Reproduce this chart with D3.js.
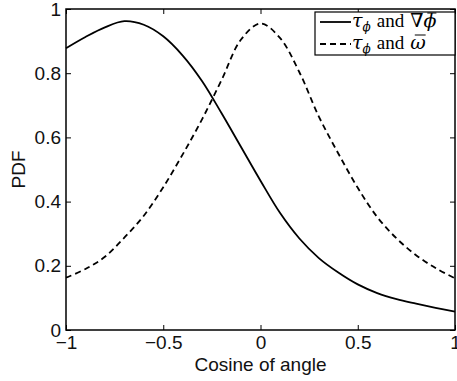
<!DOCTYPE html>
<html><head><meta charset="utf-8">
<script src="https://cdn.jsdelivr.net/npm/d3@7"></script>
<style>body{margin:0;background:#fff;} svg{display:block;}</style>
</head><body>
<svg id="c" width="457" height="381"></svg>
<script>
const cosine = [-1,-0.9,-0.8,-0.7,-0.6,-0.5,-0.4,-0.3,-0.2,-0.1,0,0.1,0.2,0.3,0.4,0.5,0.6,0.7,0.8,0.9,1];
const pdfGrad = [0.878,0.913,0.943,0.962,0.951,0.915,0.855,0.775,0.675,0.570,0.465,0.365,0.285,0.224,0.179,0.142,0.115,0.096,0.082,0.069,0.057];
const pdfOmega = [0.163,0.190,0.228,0.288,0.356,0.445,0.547,0.657,0.779,0.905,0.955,0.910,0.803,0.665,0.550,0.443,0.352,0.285,0.233,0.193,0.161];
const xTicks = [-1,-0.5,0,0.5,1];
const yTicks = [0,0.2,0.4,0.6,0.8,1];
const xLabel = "Cosine of angle";
const yLabel = "PDF";

const svg = d3.select("#c");
const L=66, R=455, T=9, B=330;
const x = d3.scaleLinear().domain([-1,1]).range([L,R]);
const y = d3.scaleLinear().domain([0,1]).range([B,T]);
const fmt = v => (v<0 ? "\u2212" + Math.abs(v) : String(v));
const sans = "Liberation Sans, Arial, Helvetica, sans-serif";
const FS = 19;

// lines
const line = d3.line().x((d,i)=>x(cosine[i])).y(d=>y(d)).curve(d3.curveCatmullRom.alpha(0.5));
svg.append("path").attr("d", line(pdfGrad)).attr("fill","none").attr("stroke","#000").attr("stroke-width",1.8);
svg.append("path").attr("d", line(pdfOmega)).attr("fill","none").attr("stroke","#000").attr("stroke-width",1.8).attr("stroke-dasharray","6,4");

// axes with inward ticks
const tl = 5;
const gx = svg.append("g").attr("transform",`translate(0,${B})`)
  .call(d3.axisBottom(x).tickValues(xTicks).tickSize(-tl).tickPadding(6).tickFormat(fmt));
const gxt = svg.append("g").attr("transform",`translate(0,${T})`)
  .call(d3.axisTop(x).tickValues(xTicks).tickSize(-tl).tickFormat(""));
const gy = svg.append("g").attr("transform",`translate(${L},0)`)
  .call(d3.axisLeft(y).tickValues(yTicks).tickSize(-tl).tickPadding(5).tickFormat(d=>String(d)));
const gyr = svg.append("g").attr("transform",`translate(${R},0)`)
  .call(d3.axisRight(y).tickValues(yTicks).tickSize(-tl).tickFormat(""));
[gx,gxt,gy,gyr].forEach(g=>{
  g.select(".domain").remove();
  g.selectAll("line").attr("stroke","#000").attr("stroke-width",1);
  g.selectAll("text").attr("font-family",sans).attr("font-size",FS).attr("fill","#111");
});
svg.append("rect").attr("x",L).attr("y",T).attr("width",R-L).attr("height",B-T)
  .attr("fill","none").attr("stroke","#000").attr("stroke-width",1.5);

// labels
svg.append("text").attr("x",(L+R)/2).attr("y",371).attr("text-anchor","middle")
  .attr("font-family",sans).attr("font-size",FS).attr("fill","#111").text(xLabel);
svg.append("text").attr("transform",`translate(25,${(T+B)/2}) rotate(-90)`).attr("text-anchor","middle")
  .attr("font-family",sans).attr("font-size",FS).attr("fill","#111").text(yLabel);

// legend
const lg = svg.append("g");
lg.append("rect").attr("x",315).attr("y",12).attr("width",140).attr("height",43)
  .attr("fill","#fff").attr("stroke","#000").attr("stroke-width",1.2);
const serif = "Liberation Serif, DejaVu Serif, serif";
const greek = "DejaVu Serif, serif";
const rowsDef = [
  {dash:null, yy:22, parts:[
    {t:"\u03C4", it:true, fs:19, f:greek},
    {t:"\u03D5", it:true, fs:12, dy:4, f:greek},
    {t:"and", fs:19, gap:6},
    {t:"\u2207", fs:19, gap:6, f:greek},
    {t:"\u03D5", it:true, fs:19, bar:true, gap:0, f:greek}
  ]},
  {dash:"6,4", yy:44, parts:[
    {t:"\u03C4", it:true, fs:19, f:greek},
    {t:"\u03D5", it:true, fs:12, dy:4, f:greek},
    {t:"and", fs:19, gap:6},
    {t:"\u03C9", it:true, fs:19, bar:true, gap:6, f:greek}
  ]}
];
rowsDef.forEach(r=>{
  lg.append("line").attr("x1",320).attr("x2",351).attr("y1",r.yy).attr("y2",r.yy)
    .attr("stroke","#000").attr("stroke-width",1.8).attr("stroke-dasharray",r.dash);
  let cx = 352;
  r.parts.forEach(p=>{
    cx += (p.gap||0);
    const t = lg.append("text").attr("x",cx).attr("y",r.yy+5+(p.dy||0))
      .attr("font-family",p.f||serif).attr("font-size",p.fs).attr("fill","#000")
      .attr("font-style",p.it?"italic":"normal").text(p.t);
    const w = t.node().getComputedTextLength();
    if(p.bar){
      lg.append("line").attr("x1",cx+w*0.3).attr("x2",cx+w*1.0)
        .attr("y1",r.yy-9).attr("y2",r.yy-9).attr("stroke","#000").attr("stroke-width",1);
    }
    cx += w;
  });
});
</script>
</body></html>
